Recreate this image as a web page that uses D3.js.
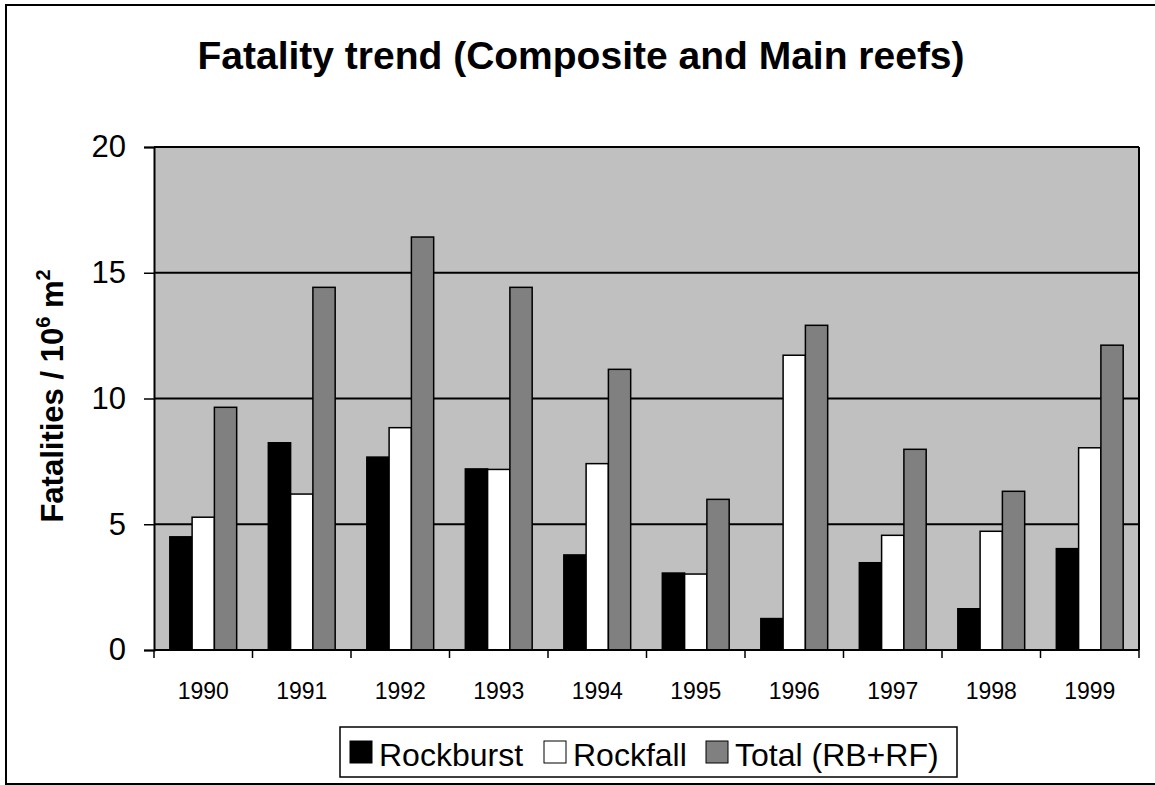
<!DOCTYPE html>
<html>
<head>
<meta charset="utf-8">
<script src="https://cdn.jsdelivr.net/npm/d3@7"></script>
<style>
  body { margin: 0; background: #fff; }
  svg { display: block; font-family: "Liberation Sans", Arial, sans-serif; }
</style>
</head>
<body>
<div id="chart"></div>
<script>
// data
var years = ["1990", "1991", "1992", "1993", "1994", "1995", "1996", "1997", "1998", "1999"];
var rockburst = [4.5, 8.24, 7.67, 7.2, 3.78, 3.06, 1.25, 3.47, 1.64, 4.03];
var rockfall  = [5.28, 6.2, 8.84, 7.18, 7.41, 3.02, 11.72, 4.56, 4.72, 8.04];
var total     = [9.65, 14.42, 16.42, 14.42, 11.16, 5.99, 12.91, 7.98, 6.31, 12.12];
var seriesNames = ["Rockburst", "Rockfall", "Total (RB+RF)"];
var yTicks = [0, 5, 10, 15, 20];

var colors = ["#000000", "#ffffff", "#808080"];
var width = 1155, height = 785;
var plot = { left: 154, right: 1139, top: 147, bottom: 650 };

var svg = d3.select("#chart").append("svg")
  .attr("width", width)
  .attr("height", height);

// outer chart frame (right edge falls off the picture)
svg.append("rect")
  .attr("x", 6).attr("y", 5)
  .attr("width", 1160).attr("height", 779)
  .attr("fill", "#fff")
  .attr("stroke", "#000").attr("stroke-width", 2);

svg.append("text")
  .attr("x", 581).attr("y", 69)
  .attr("text-anchor", "middle")
  .style("font-size", "39px").style("font-weight", "bold")
  .text("Fatality trend (Composite and Main reefs)");

var x = d3.scaleBand()
  .domain(years)
  .range([plot.left, plot.right])
  .paddingInner(0).paddingOuter(0);

var xInner = d3.scaleBand()
  .domain(d3.range(3))
  .range([0, x.bandwidth()])
  .paddingOuter(0.71).paddingInner(0);

var y = d3.scaleLinear()
  .domain([0, 20])
  .range([plot.bottom, plot.top]);

// plot area
svg.append("rect")
  .attr("x", plot.left).attr("y", plot.top)
  .attr("width", plot.right - plot.left).attr("height", plot.bottom - plot.top)
  .attr("fill", "#c0c0c0");

// gridlines
svg.append("g").selectAll("line")
  .data(yTicks.filter(function(d){ return d > 0; }))
  .enter().append("line")
  .attr("x1", plot.left).attr("x2", plot.right)
  .attr("y1", function(d){ return y(d); })
  .attr("y2", function(d){ return y(d); })
  .attr("stroke", "#000").attr("stroke-width", 2);

// right border of plot
svg.append("line")
  .attr("x1", plot.right).attr("x2", plot.right)
  .attr("y1", plot.top).attr("y2", plot.bottom)
  .attr("stroke", "#000").attr("stroke-width", 2);

// bars
var rows = years.map(function(yr, i){
  return { year: yr, values: [rockburst[i], rockfall[i], total[i]] };
});

var groups = svg.append("g").selectAll("g")
  .data(rows).enter().append("g")
  .attr("transform", function(d){ return "translate(" + x(d.year) + ",0)"; });

groups.selectAll("rect")
  .data(function(d){ return d.values.map(function(v, k){ return { k: k, v: v }; }); })
  .enter().append("rect")
  .attr("x", function(d){ return xInner(d.k); })
  .attr("width", xInner.bandwidth())
  .attr("y", function(d){ return y(d.v); })
  .attr("height", function(d){ return y(0) - y(d.v); })
  .attr("fill", function(d){ return colors[d.k]; })
  .attr("stroke", "#000").attr("stroke-width", 1.5);

// y axis
var yAxis = svg.append("g")
  .attr("transform", "translate(" + plot.left + ",0)")
  .call(d3.axisLeft(y).tickValues(yTicks).tickSize(10).tickPadding(18));
yAxis.select(".domain").attr("stroke-width", 2);
yAxis.selectAll(".tick line").attr("stroke-width", 1.5);
yAxis.selectAll("text")
  .style("font-size", "31px")
  .style("font-family", "Liberation Sans, Arial, sans-serif")
  .attr("fill", "#000");

// x axis: ticks on category boundaries
var xAxis = svg.append("g")
  .attr("transform", "translate(0," + plot.bottom + ")");
xAxis.append("line")
  .attr("x1", plot.left).attr("x2", plot.right)
  .attr("stroke", "#000").attr("stroke-width", 2);
xAxis.selectAll(".tk")
  .data(years.concat(["end"]))
  .enter().append("line")
  .attr("x1", function(d, i){ return i < years.length ? x(d) : plot.right; })
  .attr("x2", function(d, i){ return i < years.length ? x(d) : plot.right; })
  .attr("y1", 0).attr("y2", 8)
  .attr("stroke", "#000").attr("stroke-width", 1.5);
xAxis.selectAll(".lbl")
  .data(years).enter().append("text")
  .attr("x", function(d){ return x(d) + x.bandwidth() / 2; })
  .attr("y", 49)
  .attr("text-anchor", "middle")
  .style("font-size", "23px")
  .text(function(d){ return d; });

// y axis title
var yt = svg.append("text")
  .attr("transform", "translate(63,396) rotate(-90)")
  .attr("text-anchor", "middle")
  .style("font-size", "31px").style("font-weight", "bold");
yt.append("tspan").text("Fatalities / 10");
yt.append("tspan").attr("dy", -13).style("font-size", "20px").text("6");
yt.append("tspan").attr("dy", 13).text(" m");
yt.append("tspan").attr("dy", -13).style("font-size", "20px").text("2");

// legend
var legend = svg.append("g");
legend.append("rect")
  .attr("x", 340).attr("y", 727)
  .attr("width", 617).attr("height", 50)
  .attr("fill", "#fff").attr("stroke", "#000").attr("stroke-width", 1.5);

var legX = [350, 544, 706];
var items = legend.selectAll(".item")
  .data(seriesNames).enter().append("g")
  .attr("transform", function(d, i){ return "translate(" + legX[i] + ",741)"; });
items.append("rect")
  .attr("width", 22).attr("height", 22)
  .attr("fill", function(d, i){ return colors[i]; })
  .attr("stroke", "#000").attr("stroke-width", 1);
items.append("text")
  .attr("x", 29).attr("y", 25)
  .style("font-size", "32px")
  .text(function(d){ return d; });
</script>
</body>
</html>
